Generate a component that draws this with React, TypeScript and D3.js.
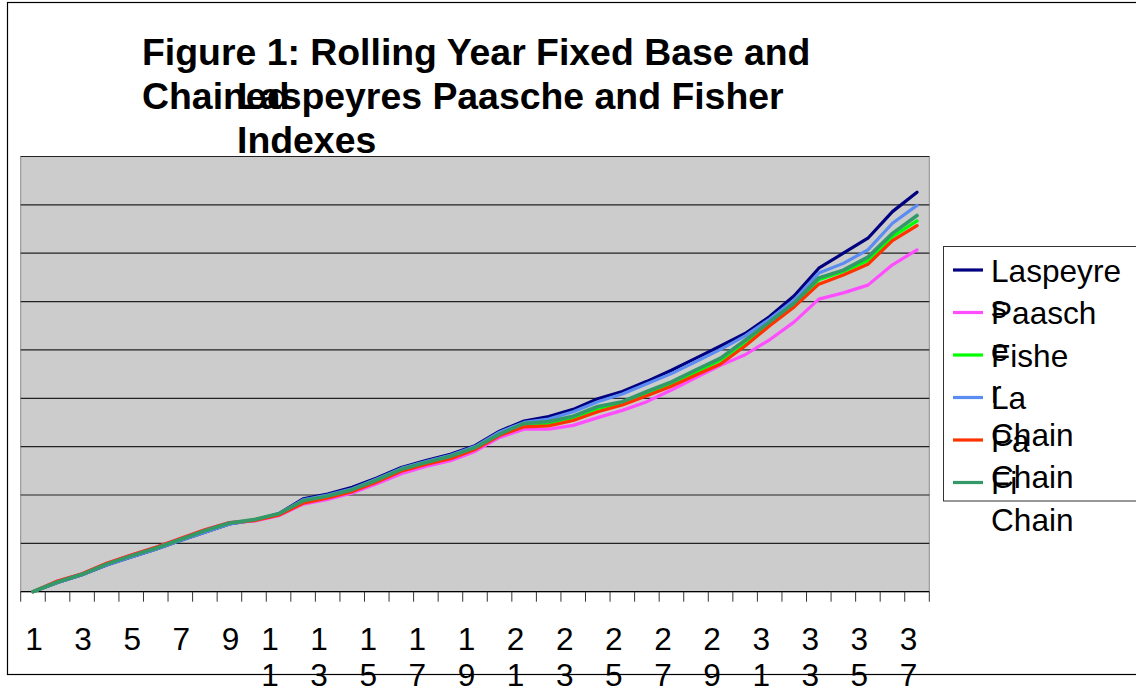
import React from "react";
import * as d3 from "d3";

// Periods (rolling-year index number) along the horizontal axis
const periods = [
  1, 2, 3, 4, 5, 6, 7, 8, 9, 10, 11, 12, 13, 14, 15, 16, 17, 18, 19, 20,
  21, 22, 23, 24, 25, 26, 27, 28, 29, 30, 31, 32, 33, 34, 35, 36, 37,
];

// Index values per series
const laspeyres = [
  1.0, 1.019, 1.035, 1.055, 1.072, 1.088, 1.106, 1.123, 1.14, 1.148, 1.161,
  1.192, 1.202, 1.216, 1.235, 1.257, 1.271, 1.284, 1.302, 1.332, 1.353, 1.362,
  1.377, 1.399, 1.414, 1.435, 1.458, 1.483, 1.508, 1.534, 1.569, 1.612, 1.669,
  1.7, 1.731, 1.786, 1.826,
];
const paasche = [
  1.0, 1.022, 1.037, 1.059, 1.076, 1.092, 1.11, 1.128, 1.143, 1.146, 1.157,
  1.181, 1.191, 1.204, 1.223, 1.244, 1.259, 1.271, 1.29, 1.319, 1.336, 1.336,
  1.344, 1.36, 1.375, 1.393, 1.417, 1.443, 1.468, 1.49, 1.521, 1.558, 1.605,
  1.618, 1.634, 1.676, 1.707,
];
const fisher = [
  1.0, 1.02, 1.036, 1.057, 1.074, 1.089, 1.107, 1.125, 1.141, 1.148, 1.16,
  1.187, 1.197, 1.21, 1.23, 1.252, 1.266, 1.279, 1.297, 1.325, 1.346, 1.348,
  1.359, 1.379, 1.39, 1.41, 1.431, 1.454, 1.479, 1.515, 1.555, 1.593, 1.645,
  1.662, 1.685, 1.734, 1.767,
];
const laChain = [
  1.0, 1.019, 1.035, 1.055, 1.072, 1.088, 1.106, 1.123, 1.14, 1.148, 1.161,
  1.19, 1.2, 1.213, 1.233, 1.255, 1.269, 1.282, 1.3, 1.33, 1.35, 1.357, 1.372,
  1.393, 1.409, 1.43, 1.451, 1.476, 1.501, 1.529, 1.564, 1.603, 1.659, 1.679,
  1.707, 1.762, 1.799,
];
const paChain = [
  1.0, 1.022, 1.037, 1.059, 1.076, 1.092, 1.11, 1.128, 1.143, 1.147, 1.158,
  1.183, 1.194, 1.207, 1.227, 1.249, 1.263, 1.275, 1.294, 1.323, 1.341, 1.343,
  1.354, 1.372, 1.386, 1.405, 1.425, 1.448, 1.471, 1.508, 1.55, 1.589, 1.636,
  1.655, 1.677, 1.726, 1.757,
];
const fiChain = [
  1.0, 1.02, 1.036, 1.057, 1.074, 1.09, 1.108, 1.126, 1.142, 1.149, 1.161,
  1.188, 1.198, 1.211, 1.231, 1.253, 1.267, 1.28, 1.298, 1.326, 1.348, 1.352,
  1.363, 1.383, 1.393, 1.414, 1.434, 1.459, 1.483, 1.52, 1.558, 1.597, 1.649,
  1.665, 1.692, 1.741, 1.778,
];

// Legend labels as they wrap inside the narrow legend box
const legendLabels = [
  ["Laspeyre", "s"],
  ["Paasch", "e"],
  ["Fishe", "r"],
  ["La", "Chain"],
  ["Pa", "Chain"],
  ["Fi", "Chain"],
];

const seriesColors = ["#000080", "#ff4dff", "#00ff00", "#5b8cf2", "#ff3300", "#339966"];
const seriesData = [laspeyres, paasche, fisher, laChain, paChain, fiChain];

const FONT = "'Liberation Sans', Arial, sans-serif";

export default function App() {
  const W = 1136;
  const H = 687;
  const plot = { left: 20.7, right: 929.3, top: 156.5, bottom: 591.7 };

  const x = d3
    .scaleBand<number>()
    .domain(periods)
    .range([plot.left, plot.right])
    .paddingInner(0)
    .paddingOuter(0);
  const bw = x.bandwidth();
  const cx = (p: number) => (x(p) as number) + bw / 2;

  const y = d3.scaleLinear().domain([1.0, 1.9]).range([plot.bottom, plot.top]);
  const gridVals = y.ticks(9);

  const line = d3
    .line<number>()
    .x((_, i) => cx(periods[i]))
    .y((v) => y(v));

  const tickXs = periods.map((p) => x(p) as number).concat([plot.right]);

  const labelSize = 31.6;
  const titleSize = 37.4;

  return (
    <svg
      width={W}
      height={H}
      style={{ position: "absolute", left: 0, top: 0, background: "#fff" }}
      fontFamily={FONT}
    >
      <rect x={0} y={0} width={W} height={H} fill="#fff" />
      {/* chart frame */}
      <rect x={7.5} y={2.5} width={W + 10} height={672} fill="none" stroke="#000" strokeWidth={1.2} />

      {/* title */}
      <g fontWeight="bold" fontSize={titleSize} fill="#000">
        <text x={142} y={65}>Figure 1: Rolling Year Fixed Base and</text>
        <text x={142} y={109}>Chained</text>
        <text x={237} y={109}>Laspeyres Paasche and Fisher</text>
        <text x={237} y={153}>Indexes</text>
      </g>

      {/* plot area */}
      <rect
        x={plot.left}
        y={plot.top}
        width={plot.right - plot.left}
        height={plot.bottom - plot.top}
        fill="#cccccc"
        stroke="#8a8a8a"
        strokeWidth={1}
      />
      {gridVals.slice(1).map((g) => (
        <line key={g} x1={plot.left} x2={plot.right} y1={y(g)} y2={y(g)} stroke="#222" strokeWidth={1.2} />
      ))}

      {/* x axis */}
      <line x1={plot.left} x2={plot.right} y1={plot.bottom} y2={plot.bottom} stroke="#000" strokeWidth={1.2} />
      {tickXs.map((tx, i) => (
        <line key={i} x1={tx} x2={tx} y1={plot.bottom} y2={plot.bottom + 10} stroke="#333" strokeWidth={1} />
      ))}
      <g fontSize={labelSize} fill="#000" textAnchor="middle">
        {periods
          .filter((p) => p % 2 === 1)
          .map((p) => {
            const s = String(p);
            if (s.length === 1) {
              return (
                <text key={p} x={cx(p) + 1} y={649.5}>
                  {s}
                </text>
              );
            }
            return (
              <g key={p}>
                <text x={cx(p) - 8.5} y={649.5}>
                  {s[0]}
                </text>
                <text x={cx(p) - 8.5} y={686.2}>
                  {s[1]}
                </text>
              </g>
            );
          })}
      </g>

      {/* series */}
      <g fill="none" strokeLinejoin="round" strokeLinecap="round">
        {seriesData.map((vals, i) => (
          <path
            key={i}
            d={line(vals) || ""}
            stroke={seriesColors[i]}
            strokeWidth={i === 5 ? 3.6 : 3.2}
          />
        ))}
      </g>

      {/* legend */}
      <rect x={943.5} y={246.5} width={220} height={254.5} fill="#fff" stroke="#333" strokeWidth={1} />
      {legendLabels.map((lbl, i) => {
        const ly = 270 + i * 42.5;
        return (
          <g key={i}>
            <line x1={953} x2={983} y1={ly} y2={ly} stroke={seriesColors[i]} strokeWidth={3.2} />
            <text x={991} y={ly + 11.7} fontSize={labelSize} fill="#000">
              {lbl[0]}
            </text>
            <text x={991} y={ly + 11.7 + 36.7} fontSize={labelSize} fill="#000">
              {lbl[1]}
            </text>
          </g>
        );
      })}
    </svg>
  );
}
